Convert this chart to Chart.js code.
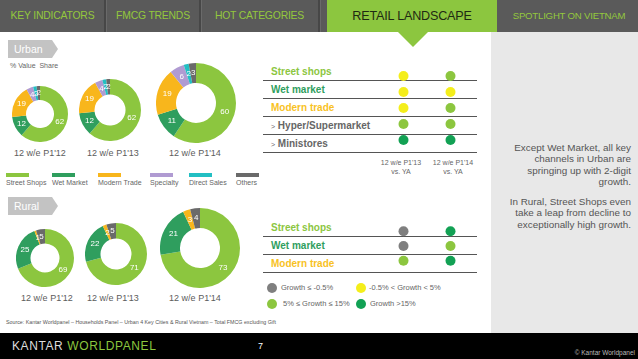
<!DOCTYPE html>
<html>
<head>
<meta charset="utf-8">
<script src="https://cdn.jsdelivr.net/npm/chart.js@4.4.0/dist/chart.umd.min.js"></script>
<style>
body{margin:0;width:638px;height:359px;position:relative;overflow:hidden;background:#fff;font-family:"Liberation Sans",Arial,sans-serif;}
.a{position:absolute;}
#nav{left:0;top:0;width:638px;height:32px;background:#5a5a5a;}
.tab{position:absolute;top:0;height:32px;line-height:31px;text-align:center;color:#94c83d;font-size:10.4px;letter-spacing:-0.2px;white-space:nowrap;}
.sep{position:absolute;top:0;width:2px;height:32px;background:#474747;box-shadow:1px 0 0 #6a6a6a;}
#active{left:327px;top:0;width:170px;height:32px;background:#8cc63f;color:#1f2a12;font-size:12.6px;line-height:32px;text-align:center;letter-spacing:-0.2px;}
#notch{left:398px;top:32px;width:30px;height:15px;background:#8cc63f;clip-path:polygon(0 0,100% 0,50% 100%);}
#side{left:491px;top:32px;width:147px;height:301px;background:#e8e8e8;}
.tag{position:absolute;left:8px;width:50px;height:18px;background:#c3c3c3;color:#fff;font-size:10.5px;line-height:18px;padding-left:6px;box-sizing:border-box;clip-path:polygon(0 0,88% 0,100% 50%,88% 100%,0 100%);}
.donut{position:absolute;}
.per{position:absolute;width:90px;text-align:center;font-size:9px;color:#5c5c5c;white-space:nowrap;}
.leg{position:absolute;top:173px;font-size:7px;color:#666;white-space:nowrap;}
.leg i{display:block;width:23px;height:4px;margin-bottom:2px;}
.tbl{position:absolute;left:263px;width:214px;}
.row{height:18px;border-bottom:1px solid #555;box-sizing:border-box;line-height:17px;padding-left:8px;font-size:10px;font-weight:bold;white-space:nowrap;}
.colh{position:absolute;top:158px;width:60px;text-align:center;font-size:7px;line-height:9px;color:#666;}
.gl{position:absolute;font-size:7.5px;color:#666;white-space:nowrap;line-height:10px;}
.gl b{position:absolute;width:10px;height:10px;border-radius:50%;left:-14px;top:0;}
.note{position:absolute;left:508px;width:123px;text-align:right;font-size:9.9px;line-height:11.4px;color:#555;}
#foot{left:0;top:333px;width:638px;height:26px;background:#000;}
</style>
</head>
<body>
<div id="nav" class="a"></div>
<div class="tab" style="left:0;width:105px">KEY INDICATORS</div>
<div class="sep" style="left:104px"></div>
<div class="tab" style="left:106px;width:94px">FMCG TRENDS</div>
<div class="sep" style="left:199px"></div>
<div class="tab" style="left:201px;width:117px">HOT CATEGORIES</div>
<div class="sep" style="left:318px"></div>
<div id="active" class="a">RETAIL LANDSCAPE</div>
<div class="tab" style="left:500px;width:138px;font-size:9.6px">SPOTLIGHT ON VIETNAM</div>
<div id="side" class="a"></div>
<div id="notch" class="a"></div>

<div class="tag" style="top:40px">Urban</div>
<div class="a" style="left:10px;top:62px;font-size:7px;color:#666">% Value&nbsp; Share</div>
<div class="tag" style="top:197px">Rural</div>

<div class="donut" style="left:12px;top:86px;width:56px;height:56px"><canvas id="u1"></canvas></div>
<div class="donut" style="left:79px;top:79px;width:62px;height:62px"><canvas id="u2"></canvas></div>
<div class="donut" style="left:156px;top:63px;width:80px;height:80px"><canvas id="u3"></canvas></div>
<div class="donut" style="left:16px;top:229px;width:58px;height:58px"><canvas id="r1"></canvas></div>
<div class="donut" style="left:85px;top:223px;width:62px;height:62px"><canvas id="r2"></canvas></div>
<div class="donut" style="left:160px;top:208px;width:80px;height:80px"><canvas id="r3"></canvas></div>

<div id="urbanPer"></div>
<div id="legend"></div>

<div id="urbanTbl" class="tbl" style="top:63px"></div>
<div class="a" style="left:375px;top:63px;width:104px;height:90px"><canvas id="urbanDots"></canvas></div>
<div id="ruralTbl" class="tbl" style="top:219px"></div>
<div class="a" style="left:375px;top:219px;width:104px;height:54px"><canvas id="ruralDots"></canvas></div>
<div id="colHeads"></div>
<div id="growthLeg"></div>

<div class="note" style="top:142px">Except Wet Market, all key channels in Urban are springing up with 2-digit growth.</div>
<div class="note" style="top:196px">In Rural, Street Shops even take a leap from decline to exceptionally high growth.</div>

<div class="a" style="left:6px;top:319px;font-size:5.3px;color:#555;white-space:nowrap">Source: Kantar Worldpanel – Households Panel – Urban 4 Key Cities &amp; Rural Vietnam – Total FMCG excluding Gift</div>
<div id="foot" class="a"></div>
<div class="a" style="left:12px;top:339px;font-size:12px;letter-spacing:0.6px;color:#ddd;white-space:nowrap">KANTAR <span style="color:#8cc63f">WORLDPANEL</span></div>
<div class="a" style="left:258px;top:341px;font-size:9px;color:#fff">7</div>
<div class="a" style="right:3px;top:349px;font-size:6.5px;color:#bbb;white-space:nowrap">© Kantar Worldpanel</div>

<script>
// channels and share of value (%)
var channels = ['Street Shops', 'Wet Market', 'Modern Trade', 'Specialty', 'Direct Sales', 'Others'];
var channelColors = ['#8cc63f', '#2f9e5e', '#f8b61c', '#b09bd2', '#22bfc3', '#6a6a6a'];
var periods = ["12 w/e P1'12", "12 w/e P1'13", "12 w/e P1'14"];

var urbanP12 = [62, 12, 19, 4, 2, 2];
var urbanP13 = [62, 12, 19, 4, 2, 2];
var urbanP14 = [60, 11, 19, 6, 2, 3];
var ruralP12 = [69, 25, 1, 0, 0, 5];
var ruralP13 = [71, 22, 2, 0, 0, 5];
var ruralP14 = [73, 21, 3, 0, 0, 4];

// growth vs year ago
var growthCols = ["12 w/e P1'13 vs. YA", "12 w/e P1'14 vs. YA"];
var urbanRows = ['Street shops', 'Wet market', 'Modern trade', '> Hyper/Supermarket', '> Ministores'];
var urbanGrowth13 = ['flat', 'flat', 'flat', 'mid', 'high'];
var urbanGrowth14 = ['mid', 'flat', 'mid', 'mid', 'high'];
var ruralRows = ['Street shops', 'Wet market', 'Modern trade'];
var ruralGrowth13 = ['down', 'down', 'mid'];
var ruralGrowth14 = ['high', 'mid', 'high'];

var growthKeys = ['down', 'flat', 'mid', 'high'];
var growthLabels = ['Growth ≤ -0.5%', '-0.5% < Growth < 5%', '5% ≤ Growth ≤ 15%', 'Growth >15%'];
var growthColors = {down: '#7f7f7f', flat: '#f4ee1b', mid: '#8cc63f', high: '#12a154'};
var rowColors = ['#8cc63f', '#2f9e5e', '#f8c21f', '#666', '#666'];

var sliceLabels = {
    id: 'sliceLabels',
    afterDatasetsDraw: function(chart, args, opts) {
        var ctx = chart.ctx;
        var vals = chart.data.datasets[0].data;
        chart.getDatasetMeta(0).data.forEach(function(arc, i) {
            if (!vals[i]) return;
            var p = arc.tooltipPosition();
            ctx.save();
            ctx.fillStyle = '#fff';
            ctx.font = opts.size + 'px "Liberation Sans", Arial';
            ctx.textAlign = 'center';
            ctx.textBaseline = 'middle';
            ctx.fillText(vals[i], p.x, p.y);
            ctx.restore();
        });
    }
};

function makeDonut(id, values, size) {
    new Chart(document.getElementById(id), {
        type: 'doughnut',
        data: {
            labels: channels,
            datasets: [{ data: values, backgroundColor: channelColors, borderWidth: 0 }]
        },
        options: {
            responsive: true,
            maintainAspectRatio: false,
            animation: false,
            cutout: '50%',
            layout: { padding: 0 },
            plugins: { legend: { display: false }, tooltip: { enabled: false }, sliceLabels: { size: size } }
        },
        plugins: [sliceLabels]
    });
}

makeDonut('u1', urbanP12, 8);
makeDonut('u2', urbanP13, 8);
makeDonut('u3', urbanP14, 8);
makeDonut('r1', ruralP12, 8);
makeDonut('r2', ruralP13, 8);
makeDonut('r3', ruralP14, 8);

// period captions under donuts
var urbanX = [40, 113, 195], ruralX = [47, 113, 195];
var h = '';
periods.forEach(function(p, i) {
    h += '<div class="per" style="left:' + (urbanX[i] - 45) + 'px;top:148px">' + p + '</div>';
    h += '<div class="per" style="left:' + (ruralX[i] - 45) + 'px;top:293px">' + p + '</div>';
});
document.getElementById('urbanPer').innerHTML = h;

// channel legend
var legX = [6, 52, 98, 150, 189, 236];
h = '';
channels.forEach(function(c, i) {
    h += '<div class="leg" style="left:' + legX[i] + 'px"><i style="background:' + channelColors[i] + '"></i>' + c + '</div>';
});
document.getElementById('legend').innerHTML = h;

function makeTable(id, rows) {
    var s = '';
    rows.forEach(function(r, i) {
        var txt = r.charAt(0) === '>' ? '<span style="font-size:7px;font-weight:normal">&gt;</span> ' + r.slice(2) : r;
        s += '<div class="row" style="color:' + rowColors[i] + '">' + txt + '</div>';
    });
    document.getElementById(id).innerHTML = s;
}
makeTable('urbanTbl', urbanRows);
makeTable('ruralTbl', ruralRows);

function makeDots(id, rows, g13, g14) {
    var pts = [], cols = [];
    rows.forEach(function(r, i) {
        pts.push({ x: growthCols[0], y: r }); cols.push(growthColors[g13[i]]);
        pts.push({ x: growthCols[1], y: r }); cols.push(growthColors[g14[i]]);
    });
    new Chart(document.getElementById(id), {
        type: 'scatter',
        data: { datasets: [{ data: pts, backgroundColor: cols, borderColor: cols, pointRadius: 5, borderWidth: 0 }] },
        options: {
            responsive: true,
            maintainAspectRatio: false,
            animation: false,
            layout: { padding: 0 },
            plugins: { legend: { display: false }, tooltip: { enabled: false } },
            scales: {
                x: { type: 'category', labels: growthCols, offset: true, display: false },
                y: { type: 'category', labels: rows, offset: true, display: false }
            }
        }
    });
}
makeDots('urbanDots', urbanRows, urbanGrowth13, urbanGrowth14);
makeDots('ruralDots', ruralRows, ruralGrowth13, ruralGrowth14);

var colX = [401, 453];
h = '';
growthCols.forEach(function(c, i) {
    var parts = c.split(' vs. ');
    h += '<div class="colh" style="left:' + (colX[i] - 30) + 'px">' + parts[0] + '<br>vs. YA</div>';
});
document.getElementById('colHeads').innerHTML = h;

var glPos = [[281, 283], [369, 283], [283, 299], [370, 299]];
var dotX = [267, 356, 267, 356];
h = '';
growthKeys.forEach(function(k, i) {
    h += '<div class="gl" style="left:' + glPos[i][0] + 'px;top:' + glPos[i][1] + 'px">' +
        '<b style="left:' + (dotX[i] - glPos[i][0]) + 'px;background:' + growthColors[k] + '"></b>' + growthLabels[i] + '</div>';
});
document.getElementById('growthLeg').innerHTML = h;
</script>
</body>
</html>
